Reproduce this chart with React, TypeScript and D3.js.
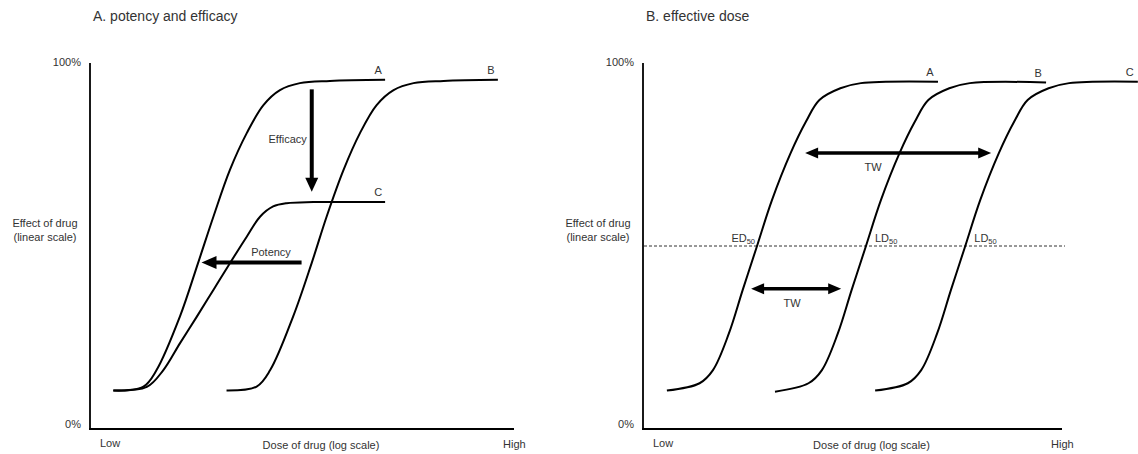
import React from 'react';
import * as d3 from 'd3';

const W = 1138;
const H = 454;
const FONT = '"Liberation Sans", Arial, Helvetica, sans-serif';
const TEXT = '#333';

// ---------- Panel A: potency and efficacy (dose index on log axis, effect in %) ----------
const panelATitle = 'A. potency and efficacy';
const aCurveA_dose = [5.5, 12.6, 15.7, 21.2, 25.5, 29.1, 33.0, 37.0, 40.9, 44.8, 49.5, 56.6, 69.6];
const aCurveA_effect = [10.5, 11.6, 16.1, 30.7, 45.4, 58.0, 70.8, 80.9, 88.5, 92.6, 94.5, 95.1, 95.4];
const aCurveC_dose = [5.5, 13.4, 17.3, 21.2, 25.2, 29.1, 33.0, 37.0, 40.1, 43.2, 46.4, 52.7, 69.6];
const aCurveC_effect = [10.5, 11.5, 16.1, 23.4, 30.7, 38.0, 45.3, 52.6, 58.0, 60.8, 61.7, 62.0, 62.0];
const aCurveB_dose = [32.2, 39.3, 42.5, 47.9, 52.3, 55.8, 59.8, 63.7, 67.6, 71.6, 76.3, 83.4, 96.2];
const aCurveB_effect = [10.5, 11.6, 16.1, 30.7, 45.4, 58.0, 70.8, 80.9, 88.5, 92.6, 94.5, 95.1, 95.4];
const aLabels = ['A', 'C', 'B'];
// arrows: [dose start, effect start, dose end, effect end]
const efficacyArrow = [52.3, 92.8, 52.3, 64.8];
const potencyArrow = [49.9, 45.5, 26.3, 45.5];

// ---------- Panel B: effective dose ----------
const panelBTitle = 'B. effective dose';
const bCurveA_dose = [5.7, 13.5, 16.7, 20.5, 23.8, 27.1, 30.8, 35.2, 38.9, 42.1, 47.1, 52.0, 70.4];
const bCurveA_effect = [10.5, 12.5, 16.1, 26.1, 38.0, 49.6, 62.6, 75.3, 84.0, 89.9, 93.1, 94.5, 94.9];
const bCurveB_dose = [31.5, 39.5, 42.7, 46.5, 49.8, 53.1, 56.8, 61.2, 64.9, 68.1, 73.1, 78.0, 96.2];
const bCurveB_effect = [10.2, 12.5, 16.1, 26.1, 38.0, 49.6, 62.6, 75.3, 84.0, 89.9, 93.1, 94.5, 94.7];
const bCurveC_dose = [55.4, 63.2, 66.4, 70.2, 73.5, 76.8, 80.5, 84.9, 88.6, 91.8, 96.8, 101.7, 118.1];
const bCurveC_effect = [10.5, 12.5, 16.1, 26.1, 38.0, 49.6, 62.6, 75.3, 84.0, 89.9, 93.1, 94.5, 94.9];
const bLabels = ['A', 'B', 'C'];
const halfEffect = 50;
const twUpper = [38.7, 75.4, 83.1, 75.4];
const twLower = [25.8, 38.3, 47.3, 38.3];

// ---------- Axis texts ----------
const yTickLabels = ['0%', '100%'];
const yTickValues = [0, 100];
const yAxisTitle = ['Effect of drug', '(linear scale)'];
const xAxisTitle = 'Dose of drug (log scale)';
const xEndLabels = ['Low', 'High'];

type Pt = [number, number];
const zip = (xs: number[], ys: number[]): Pt[] => xs.map((x, i) => [x, ys[i]]);

function Arrow({ x1, y1, x2, y2, double = false, head = 13, half = 6, width = 4 }: any) {
  const dx = x2 - x1;
  const dy = y2 - y1;
  const len = Math.hypot(dx, dy);
  const ux = dx / len;
  const uy = dy / len;
  const px = -uy;
  const py = ux;
  const sx = double ? x1 + ux * (head - 1) : x1;
  const sy = double ? y1 + uy * (head - 1) : y1;
  const ex = x2 - ux * (head - 1);
  const ey = y2 - uy * (head - 1);
  const headPts = (tx: number, ty: number, dirx: number, diry: number) => {
    const bx = tx - dirx * head;
    const by = ty - diry * head;
    return `${tx},${ty} ${bx + px * half},${by + py * half} ${bx - px * half},${by - py * half}`;
  };
  return (
    <g>
      <line x1={sx} y1={sy} x2={ex} y2={ey} stroke="#000" strokeWidth={width} />
      <polygon points={headPts(x2, y2, ux, uy)} fill="#000" />
      {double && <polygon points={headPts(x1, y1, -ux, -uy)} fill="#000" />}
    </g>
  );
}

function Axes({ xs, ys, x0, x1, yBot, title, ylabCx }: any) {
  return (
    <g fontFamily={FONT} fill={TEXT}>
      <line x1={x0} y1={ys(100)} x2={x0} y2={yBot + 0.9} stroke="#000" strokeWidth={1.8} />
      <line x1={x0 - 0.9} y1={yBot} x2={x1} y2={yBot} stroke="#000" strokeWidth={1.8} />
      {yTickValues.map((v, i) => (
        <text key={i} x={x0 - 9} y={ys(v) + (v === 0 ? -1 : 3)} fontSize={11} textAnchor="end">
          {yTickLabels[i]}
        </text>
      ))}
      {yAxisTitle.map((t, i) => (
        <text key={t} x={ylabCx} y={227 + i * 14} fontSize={11} textAnchor="middle">
          {t}
        </text>
      ))}
      <text x={xs(0) + 10} y={447} fontSize={11}>{xEndLabels[0]}</text>
      <text x={(x0 + x1) / 2 + 19} y={449} fontSize={11} textAnchor="middle">{xAxisTitle}</text>
      <text x={x1 - 11} y={448} fontSize={11}>{xEndLabels[1]}</text>
      <text x={x0 + 3} y={21} fontSize={14}>{title}</text>
    </g>
  );
}

export default function App() {
  const yBot = 429;
  const yTop = 63;
  const ys = d3.scaleLinear().domain([0, 100]).range([yBot, yTop]);

  // Panel A
  const aX0 = 90, aX1 = 514;
  const xa = d3.scaleLinear().domain([0, 100]).range([aX0, aX1]);
  const lineA = d3.line<Pt>().x(d => xa(d[0])).y(d => ys(d[1])).curve(d3.curveCatmullRom.alpha(0.5));
  const aCurves = [zip(aCurveA_dose, aCurveA_effect), zip(aCurveC_dose, aCurveC_effect), zip(aCurveB_dose, aCurveB_effect)];

  // Panel B
  const bX0 = 643, bX1 = 1062;
  const xb = d3.scaleLinear().domain([0, 100]).range([bX0, bX1]);
  const lineB = d3.line<Pt>().x(d => xb(d[0])).y(d => ys(d[1])).curve(d3.curveCatmullRom.alpha(0.5));
  const bCurves = [zip(bCurveA_dose, bCurveA_effect), zip(bCurveB_dose, bCurveB_effect), zip(bCurveC_dose, bCurveC_effect)];

  // crossing of each panel-B curve with 50 %
  const crossing = (c: Pt[]) => {
    for (let i = 1; i < c.length; i++) {
      if (c[i][1] >= halfEffect && c[i - 1][1] < halfEffect) {
        const t = (halfEffect - c[i - 1][1]) / (c[i][1] - c[i - 1][1]);
        return c[i - 1][0] + t * (c[i][0] - c[i - 1][0]);
      }
    }
    return c[0][0];
  };

  return (
    <svg width={W} height={H} style={{ position: 'absolute', left: 0, top: 0, background: '#fff' }}>
      <rect x={0} y={0} width={W} height={H} fill="#fff" />
      <Axes xs={xa} ys={ys} x0={aX0} x1={aX1} yBot={yBot} title={panelATitle} ylabCx={45} />
      <Axes xs={xb} ys={ys} x0={bX0} x1={bX1} yBot={yBot} title={panelBTitle} ylabCx={598} />

      {/* Panel A curves */}
      {aCurves.map((c, i) => (
        <g key={i}>
          <path d={lineA(c) || ''} fill="none" stroke="#000" strokeWidth={2} />
          <text x={xa(c[c.length - 1][0]) - 7} y={ys(c[c.length - 1][1]) - 6} fontSize={11}
            fontFamily={FONT} fill={TEXT} textAnchor="middle">{aLabels[i]}</text>
        </g>
      ))}
      <Arrow x1={xa(efficacyArrow[0])} y1={ys(efficacyArrow[1])} x2={xa(efficacyArrow[2])} y2={ys(efficacyArrow[3])}
        head={14} half={6.5} width={4} />
      <text x={xa(efficacyArrow[0]) - 5} y={143} fontSize={11} fontFamily={FONT} fill={TEXT} textAnchor="end">Efficacy</text>
      <Arrow x1={xa(potencyArrow[0])} y1={ys(potencyArrow[1])} x2={xa(potencyArrow[2])} y2={ys(potencyArrow[3])}
        head={15} half={6.5} width={4} />
      <text x={271} y={ys(potencyArrow[1]) - 6.5} fontSize={11} fontFamily={FONT} fill={TEXT} textAnchor="middle">Potency</text>

      {/* Panel B */}
      <line x1={xb(0) + 1} y1={ys(halfEffect)} x2={xb(100) + 3} y2={ys(halfEffect)} stroke="#333" strokeWidth={1}
        strokeDasharray="3,2" />
      {bCurves.map((c, i) => (
        <g key={i}>
          <path d={lineB(c) || ''} fill="none" stroke="#000" strokeWidth={2} />
          <text x={xb(c[c.length - 1][0]) - 8} y={ys(c[c.length - 1][1]) - 5.5} fontSize={11}
            fontFamily={FONT} fill={TEXT} textAnchor="middle">{bLabels[i]}</text>
        </g>
      ))}
      {bCurves.map((c, i) => {
        const cx = xb(crossing(c));
        const isED = i === 0;
        return (
          <text key={'l' + i} x={isED ? cx - 2 : cx + 9} y={ys(halfEffect) - 4} fontSize={11}
            fontFamily={FONT} fill={TEXT} textAnchor={isED ? 'end' : 'start'}>
            {isED ? 'ED' : 'LD'}
            <tspan fontSize={7.5} dy={2}>50</tspan>
          </text>
        );
      })}
      <Arrow x1={xb(twUpper[0])} y1={ys(twUpper[1])} x2={xb(twUpper[2])} y2={ys(twUpper[3])} double
        head={13} half={5.5} width={3.5} />
      <text x={(xb(twUpper[0]) + xb(twUpper[2])) / 2 - 25} y={ys(twUpper[1]) + 18} fontSize={11} fontFamily={FONT}
        fill={TEXT} textAnchor="middle">TW</text>
      <Arrow x1={xb(twLower[0])} y1={ys(twLower[1])} x2={xb(twLower[2])} y2={ys(twLower[3])} double
        head={13} half={5.5} width={3.5} />
      <text x={(xb(twLower[0]) + xb(twLower[2])) / 2 - 4} y={ys(twLower[1]) + 18} fontSize={11} fontFamily={FONT}
        fill={TEXT} textAnchor="middle">TW</text>
    </svg>
  );
}
